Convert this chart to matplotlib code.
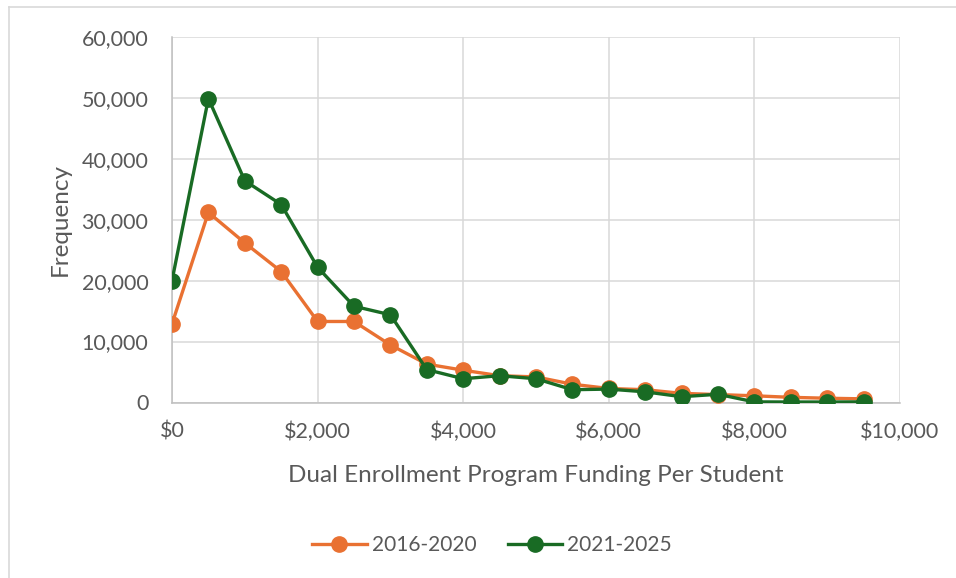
import matplotlib.pyplot as plt
from matplotlib.lines import Line2D
from matplotlib.ticker import FuncFormatter, MultipleLocator

plt.rcParams['font.family'] = ['Lato', 'DejaVu Sans']

# funding bins (per student, $)
funding = [0, 500, 1000, 1500, 2000, 2500, 3000, 3500, 4000, 4500,
           5000, 5500, 6000, 6500, 7000, 7500, 8000, 8500, 9000, 9500]

freq_2016_2020 = [12900, 31200, 26200, 21500, 13300, 13300, 9450, 6300, 5300, 4400,
                  4200, 3000, 2300, 2100, 1500, 1300, 1100, 850, 700, 600]
freq_2021_2025 = [20000, 49900, 36400, 32500, 22200, 15800, 14400, 5400, 3900, 4400,
                  3900, 2100, 2200, 1750, 950, 1350, 100, 80, 80, 100]

series_labels = ['2016-2020', '2021-2025']
colors = ['#E97132', '#196B24']
text_color = '#595959'

fig = plt.figure(figsize=(9.56, 5.78), dpi=100)
ax = fig.add_axes([172 / 956, 1 - 402.5 / 578, (900 - 172) / 956, (402.5 - 37) / 578])

for vals, lab, c in zip([freq_2016_2020, freq_2021_2025], series_labels, colors):
    ax.plot(funding, vals, color=c, lw=2.4, marker='o', ms=11, label=lab,
            solid_joinstyle='round', zorder=3)

ax.set_xlim(0, 10000)
ax.set_ylim(0, 60000)
ax.xaxis.set_major_locator(MultipleLocator(2000))
ax.yaxis.set_major_locator(MultipleLocator(10000))
ax.xaxis.set_major_formatter(FuncFormatter(lambda v, p: f'${v:,.0f}'))
ax.yaxis.set_major_formatter(FuncFormatter(lambda v, p: f'{v:,.0f}'))

ax.grid(True, color='#D9D9D9', lw=1.1, zorder=0)
for s in ['top', 'right']:
    ax.spines[s].set_visible(False)
for s in ['left', 'bottom']:
    ax.spines[s].set_color('#BFBFBF')
    ax.spines[s].set_linewidth(1.1)
ax.tick_params(length=0, labelsize=15.5, colors=text_color, pad=10)
ax.tick_params(axis='y', pad=17)
ax.tick_params(axis='x', pad=14)

ax.set_xlabel('Dual Enrollment Program Funding Per Student', fontsize=17.5,
              color=text_color, labelpad=16)
ax.set_ylabel('Frequency', fontsize=17.5, color=text_color, labelpad=8)

ax.legend(loc='center', bbox_to_anchor=(492 / 956, 1 - 545 / 578),
          bbox_transform=fig.transFigure, ncol=2, frameon=False, fontsize=15,
          labelcolor=text_color, handlelength=2.6, columnspacing=1.5, handletextpad=0.25)

# outer chart border (only top and left edges are in view)
fig.add_artist(Line2D([8.5 / 956, 8.5 / 956], [0, 1 - 6.5 / 578],
                      transform=fig.transFigure, color='#D9D9D9', lw=1.2))
fig.add_artist(Line2D([8.5 / 956, 1], [1 - 6.5 / 578, 1 - 6.5 / 578],
                      transform=fig.transFigure, color='#D9D9D9', lw=1.2))

fig.savefig('out.png', dpi=100)
